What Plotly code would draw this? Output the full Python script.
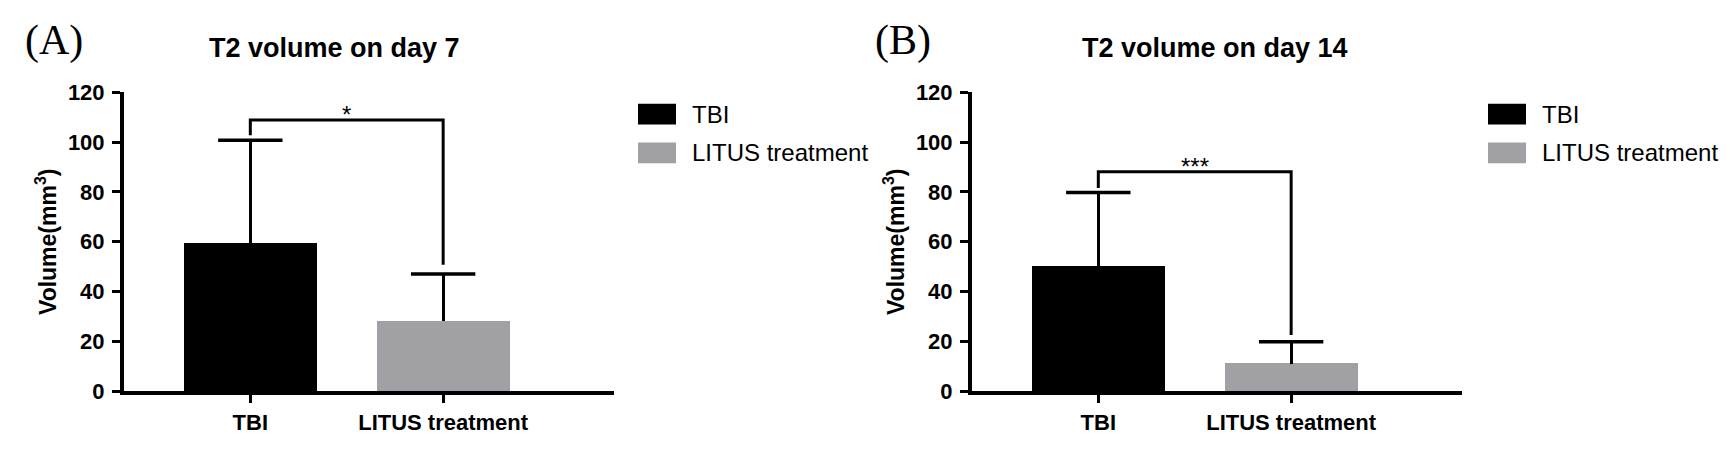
import plotly.graph_objects as go

# ---------------- data ----------------
categories = ["TBI", "LITUS treatment"]
day7_mean = [59.3, 28.2]
day7_sd = [41.5, 18.8]
day14_mean = [50.0, 11.0]
day14_sd = [29.8, 8.8]
bar_colors = ["#000000", "#a1a1a5"]

# significance brackets (category index, y values)
br7_x = [0, 0, 1, 1]
br7_y = [102.8, 108.9, 108.9, 50.8]
br7_label = "*"
br14_x = [0, 0, 1, 1]
br14_y = [81.6, 88.1, 88.1, 22.5]
br14_label = "***"

titles = ["T2 volume on day 7", "T2 volume on day 14"]
panel_labels = ["(A)", "(B)"]
y_ticks = [0, 20, 40, 60, 80, 100, 120]

FONT = "Liberation Sans, Arial, sans-serif"
W, H = 1735, 458

fig = go.Figure()

panels = [
    dict(xa="x", ya="y", mean=day7_mean, sd=day7_sd, bx=br7_x, by=br7_y, bl=br7_label),
    dict(xa="x2", ya="y2", mean=day14_mean, sd=day14_sd, bx=br14_x, by=br14_y, bl=br14_label),
]

for p in panels:
    for i, cat in enumerate(categories):
        # bar with upward-only error stem (no caps)
        fig.add_trace(go.Bar(
            x=[cat], y=[p["mean"][i]], width=0.69,
            marker=dict(color=bar_colors[i], line=dict(width=0)),
            error_y=dict(type="data", symmetric=False, array=[p["sd"][i]], arrayminus=[0],
                         color="black", thickness=3, width=0),
            xaxis=p["xa"], yaxis=p["ya"], showlegend=False, name=cat,
        ))
        # cap at top of error bar
        fig.add_trace(go.Scatter(
            x=[cat], y=[p["mean"][i] + p["sd"][i]], mode="markers",
            marker=dict(symbol="line-ew", size=46, color="black",
                        line=dict(color="black", width=3.5)),
            xaxis=p["xa"], yaxis=p["ya"], showlegend=False, hoverinfo="skip",
        ))
    fig.add_trace(go.Scatter(
        x=[categories[j] for j in p["bx"]], y=p["by"], mode="lines",
        line=dict(color="black", width=3), xaxis=p["xa"], yaxis=p["ya"],
        showlegend=False, hoverinfo="skip",
    ))
    fig.add_annotation(
        x=0.5, y=p["by"][1], xref=p["xa"], yref=p["ya"], text=p["bl"],
        showarrow=False, yanchor="bottom", yshift=-10,
        font=dict(family=FONT, size=24, color="black"),
    )

ydom = [1 - 401 / H, 1 - 85 / H]
xdoms = [[124 / W, 614 / W], [972 / W, 1462 / W]]
axis_common = dict(showline=True, linecolor="black", linewidth=4, ticks="outside",
                   ticklen=8, tickwidth=3, tickcolor="black", showgrid=False, zeroline=False,
                   tickfont=dict(family=FONT, size=22, color="black", weight="bold"))

for k, (xn, yn) in enumerate([("xaxis", "yaxis"), ("xaxis2", "yaxis2")]):
    fig.update_layout(**{
        xn: dict(domain=xdoms[k], anchor="y" if k == 0 else "y2", type="category",
                 categoryorder="array", categoryarray=categories,
                 range=[-0.655, 1.886], ticklabelstandoff=0, **axis_common),
        yn: dict(domain=ydom, anchor="x" if k == 0 else "x2", range=[0, 120],
                 tickvals=y_ticks, ticklabelstandoff=3,
                 title=dict(text="Volume(mm<sup>3</sup>)", standoff=6,
                            font=dict(family=FONT, size=23, color="black", weight="bold")),
                 **axis_common),
    })

# titles and panel labels
title_x = [334, 1215]
label_x = [23, 873]
for k in range(2):
    fig.add_annotation(x=title_x[k] / W, y=1 - 38 / H, xref="paper", yref="paper",
                       text=titles[k], showarrow=False, xanchor="center", yanchor="middle",
                       font=dict(family=FONT, size=27, color="black", weight="bold"))
    fig.add_annotation(x=label_x[k] / W, y=1 - 30 / H, xref="paper", yref="paper",
                       text=panel_labels[k], showarrow=False, xanchor="left", yanchor="middle",
                       font=dict(family="Liberation Serif, Times New Roman, serif", size=42, color="black"))

# legends drawn as swatches + text
legend_x = [638, 1488]
row_y = [108, 149]
for k in range(2):
    for i, cat in enumerate(categories):
        fig.add_shape(type="rect", xref="paper", yref="paper",
                      x0=legend_x[k] / W, x1=(legend_x[k] + 38) / W,
                      y0=1 - (row_y[i] + 11) / H, y1=1 - (row_y[i] - 11) / H,
                      fillcolor=bar_colors[i], line=dict(width=0))
        fig.add_annotation(x=(legend_x[k] + 52) / W, y=1 - row_y[i] / H, xref="paper", yref="paper",
                           text=cat, showarrow=False, xanchor="left", yanchor="middle",
                           font=dict(family=FONT, size=24, color="black"))

fig.update_layout(width=W, height=H, margin=dict(l=0, r=0, t=0, b=0),
                  plot_bgcolor="white", paper_bgcolor="white", bargap=0)

fig.write_html("out.html", config={"displayModeBar": False},
               post_script="document.body.style.margin='0';")
